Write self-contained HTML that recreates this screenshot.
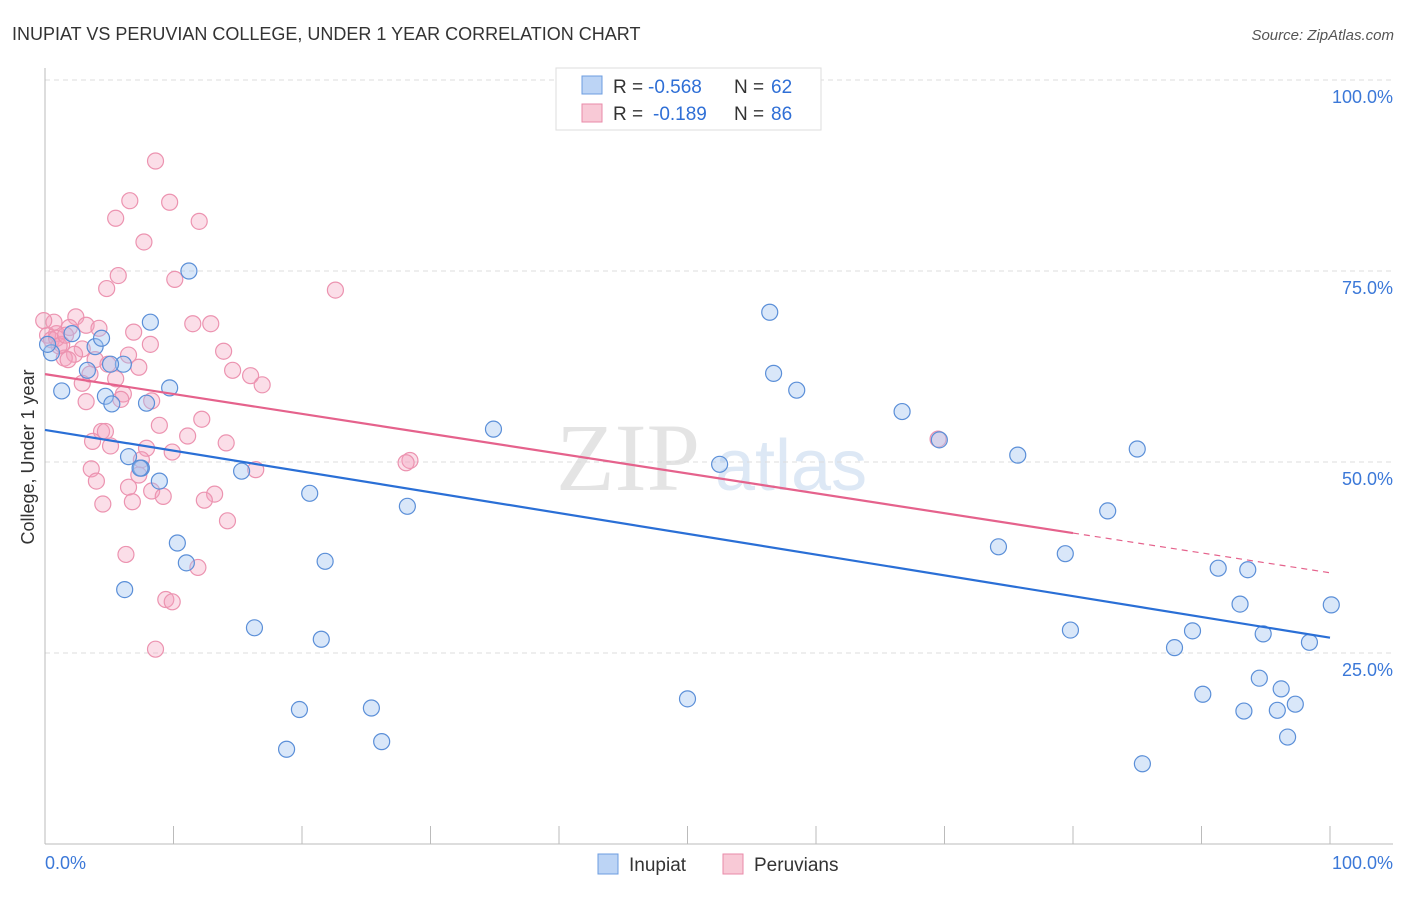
<!DOCTYPE html>
<html><head><meta charset="utf-8"><style>
body{margin:0;background:#fff;font-family:"Liberation Sans",sans-serif}
</style></head><body>
<svg id="c" width="1406" height="892" xmlns="http://www.w3.org/2000/svg">
<text x="12" y="40" font-size="18" fill="#333">INUPIAT VS PERUVIAN COLLEGE, UNDER 1 YEAR CORRELATION CHART</text>
<text x="1394" y="40" font-size="15" fill="#555" font-style="italic" text-anchor="end">Source: ZipAtlas.com</text>
<text x="700" y="490" font-size="96" fill="#e4e4e4" font-family="Liberation Serif,serif" text-anchor="end">ZIP</text>
<text x="715" y="490" font-size="72" fill="#dde8f5">atlas</text>
<g id="grid"></g><g id="axes"></g><g id="pts"></g><g id="trend"></g>
<text transform="translate(34,457) rotate(-90)" font-size="18" fill="#333" text-anchor="middle">College, Under 1 year</text>
<g font-size="19">
<rect x="556" y="68" width="265" height="62" fill="#fff" stroke="#ddd"/>
<rect x="582" y="76" width="20" height="18" fill="#bcd4f5" stroke="#6c9de0"/>
<text x="613" y="93" fill="#333">R =</text>
<text x="648" y="93" fill="#2f6fd6">-0.568</text>
<text x="734" y="93" fill="#333">N =</text>
<text x="771" y="93" fill="#2f6fd6">62</text>
<rect x="582" y="104" width="20" height="18" fill="#f8c9d6" stroke="#e98aa8"/>
<text x="613" y="120" fill="#333">R =</text>
<text x="653" y="120" fill="#2f6fd6">-0.189</text>
<text x="734" y="120" fill="#333">N =</text>
<text x="771" y="120" fill="#2f6fd6">86</text>
</g>
<g>
<rect x="598" y="854" width="20" height="20" fill="#bcd4f5" stroke="#6c9de0"/>
<text x="629" y="871" font-size="19" fill="#333">Inupiat</text>
<rect x="723" y="854" width="20" height="20" fill="#f8c9d6" stroke="#e98aa8"/>
<text x="754" y="871" font-size="19" fill="#333">Peruvians</text>
</g>
</svg>
<script>
const yTicks=[25,50,75,100];
const yTickLabels=["25.0%","50.0%","75.0%","100.0%"];
const xTicks=[0,10,20,30,40,50,60,70,80,90,100];
const inupiatX=[11.2,8.2,56.4,56.7,58.5,9.7,1.3,3.9,4.4,3.3,6.1,4.7,5.2,7.9,34.9,66.7,69.6,75.7,85.0,52.5,6.5,7.5,8.9,15.3,20.6,28.2,82.7,10.3,11.0,21.8,74.2,79.4,91.3,93.6,6.2,16.3,21.5,93.0,100.1,79.8,89.3,94.8,98.4,87.9,50.0,19.8,25.4,90.1,94.5,96.2,95.9,93.3,97.3,96.7,18.8,26.2,85.4,0.5,2.1,0.2,5.1,7.4];
const inupiatY=[75,68.3,69.6,61.6,59.4,59.7,59.3,65.1,66.2,62.0,62.8,58.6,57.6,57.7,54.3,56.6,52.9,50.9,51.7,49.7,50.7,49.2,47.5,48.8,45.9,44.2,43.6,39.4,36.8,37.0,38.9,38.0,36.1,35.9,33.3,28.3,26.8,31.4,31.3,28.0,27.9,27.5,26.4,25.7,19.0,17.6,17.8,19.6,21.7,20.3,17.5,17.4,18.3,14.0,12.4,13.4,10.5,64.3,66.8,65.4,62.8,49.2];
const peruX=[8.6,6.6,9.7,5.5,12.0,7.7,10.1,5.7,4.8,22.6,2.4,11.5,12.9,1.9,3.2,4.2,6.9,0.9,0.2,0.5,1.3,8.2,2.9,2.3,13.9,1.5,6.5,1.8,3.9,4.9,7.3,14.6,3.5,5.5,16.0,16.9,2.9,6.1,5.9,8.3,3.2,12.2,8.9,4.4,4.7,11.1,14.1,3.7,5.1,7.9,9.9,7.5,16.4,3.6,7.3,4.0,6.5,8.3,9.2,13.2,12.4,4.5,6.8,28.4,28.1,69.5,14.2,6.3,9.4,9.9,11.9,8.6,0.7,0.9,1.1,1.6,-0.1];
const peruY=[89.4,84.2,84.0,81.9,81.5,78.8,73.9,74.4,72.7,72.5,69.0,68.1,68.1,67.6,67.9,67.5,67.0,66.8,66.6,66.0,65.4,65.4,64.8,64.1,64.5,63.6,64.0,63.4,63.4,62.8,62.4,62.0,61.5,60.9,61.3,60.1,60.3,58.9,58.2,58.0,57.9,55.6,54.8,54.0,54.0,53.4,52.5,52.7,52.1,51.8,51.3,50.3,49.0,49.1,48.3,47.5,46.7,46.2,45.5,45.8,45.0,44.5,44.8,50.2,49.9,53.0,42.3,37.9,32.0,31.7,36.2,25.5,68.3,66.2,65.2,66.6,68.5];
const blueTrend=[0,54.2,100,27.0];
const pinkTrend=[0,61.5,80,40.7,100,35.5];
const NS="http://www.w3.org/2000/svg";
const X=v=>45+v*12.85, Y=v=>844-v*7.64;
function mk(p,tag,a){const e=document.createElementNS(NS,tag);for(const k in a)e.setAttribute(k,a[k]);document.getElementById(p).appendChild(e);return e;}
yTicks.forEach((t,i)=>{
 const l=mk('grid','line',{x1:45,x2:1393,y1:Y(t),y2:Y(t),stroke:'#ddd','stroke-dasharray':'5,4'});
 
 
 const tx=mk('grid','text',{x:1393,y:Y(t)+23,'font-size':18,fill:'#3b78d8','text-anchor':'end'});tx.textContent=yTickLabels[i];
 
 
});
const ax=mk('axes','line',{x1:45,x2:1393,y1:844,y2:844,stroke:'#bbb'});


const ay=mk('axes','line',{x1:45,x2:45,y1:68,y2:844,stroke:'#bbb'});


xTicks.forEach(t=>{const l=mk('axes','line',{x1:X(t),x2:X(t),y1:826,y2:844,stroke:'#bbb'});
 
 });
[[0,'0.0%','start',45],[100,'100.0%','end',1393]].forEach(d=>{const t=mk('axes','text',{x:d[3],y:869,'font-size':18,fill:'#3b78d8','text-anchor':d[2]});t.textContent=d[1];
 
 });
peruX.forEach((v,i)=>{const c=mk('pts','circle',{cx:X(v),cy:Y(peruY[i]),r:8,fill:'rgba(244,160,188,0.35)',stroke:'#ec93b0','stroke-width':1.2});
 
 });
inupiatX.forEach((v,i)=>{const c=mk('pts','circle',{cx:X(v),cy:Y(inupiatY[i]),r:8,fill:'rgba(160,196,240,0.4)',stroke:'#5b8fd8','stroke-width':1.2});
 
 });
const bl=mk('trend','line',{x1:X(blueTrend[0]),y1:Y(blueTrend[1]),x2:X(blueTrend[2]),y2:Y(blueTrend[3]),stroke:'#2a6fd6','stroke-width':2.2});


const pl=mk('trend','line',{x1:X(pinkTrend[0]),y1:Y(pinkTrend[1]),x2:X(pinkTrend[2]),y2:Y(pinkTrend[3]),stroke:'#e5628c','stroke-width':2.2});


const pd=mk('trend','line',{x1:X(pinkTrend[2]),y1:Y(pinkTrend[3]),x2:X(pinkTrend[4]),y2:Y(pinkTrend[5]),stroke:'#e5628c','stroke-width':1.2,'stroke-dasharray':'6,5'});


</script>
</body></html>
